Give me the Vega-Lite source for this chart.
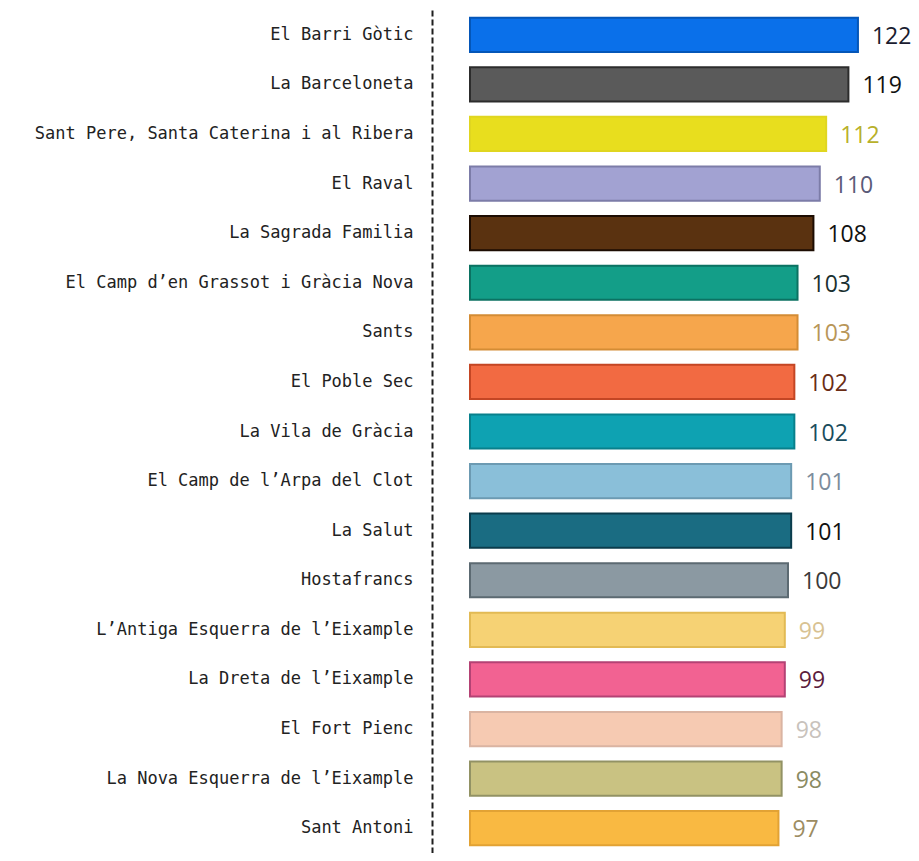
{
  "$schema": "https://vega.github.io/schema/vega-lite/v6.json",
  "autosize": {"type": "none"},
  "padding": {"left": 470, "top": 10, "right": 0, "bottom": 0},
  "width": 449,
  "height": 843,
  "background": "white",
  "config": {"view": {"stroke": null}},
  "data": {
    "values": [
      {"barrio": "El Barri Gòtic", "valor": 122},
      {"barrio": "La Barceloneta", "valor": 119},
      {"barrio": "Sant Pere, Santa Caterina i al Ribera", "valor": 112},
      {"barrio": "El Raval", "valor": 110},
      {"barrio": "La Sagrada Familia", "valor": 108},
      {"barrio": "El Camp d’en Grassot i Gràcia Nova", "valor": 103},
      {"barrio": "Sants", "valor": 103},
      {"barrio": "El Poble Sec", "valor": 102},
      {"barrio": "La Vila de Gràcia", "valor": 102},
      {"barrio": "El Camp de l’Arpa del Clot", "valor": 101},
      {"barrio": "La Salut", "valor": 101},
      {"barrio": "Hostafrancs", "valor": 100},
      {"barrio": "L’Antiga Esquerra de l’Eixample", "valor": 99},
      {"barrio": "La Dreta de l’Eixample", "valor": 99},
      {"barrio": "El Fort Pienc", "valor": 98},
      {"barrio": "La Nova Esquerra de l’Eixample", "valor": 98},
      {"barrio": "Sant Antoni", "valor": 97}
    ]
  },
  "encoding": {
    "y": {
      "field": "barrio",
      "type": "nominal",
      "sort": null,
      "scale": {"paddingInner": 0.31},
      "axis": {
        "title": null,
        "orient": "left",
        "offset": 38,
        "domainDash": [6, 3],
        "domainWidth": 2,
        "domainColor": "#1e1e1e",
        "ticks": false,
        "grid": false,
        "labelPadding": 19,
        "labelFont": "DejaVu Sans Mono",
        "labelFontSize": 17,
        "labelColor": "#222222",
        "labelLimit": 600
      }
    },
    "x": {
      "field": "valor",
      "type": "quantitative",
      "scale": {"domain": [0, 141.2], "nice": false, "zero": true},
      "axis": null
    }
  },
  "layer": [
    {
      "mark": {"type": "bar", "strokeWidth": 2},
      "encoding": {
        "fill": {
          "field": "barrio",
          "type": "nominal",
          "legend": null,
          "scale": {
            "domain": ["El Barri Gòtic", "La Barceloneta", "Sant Pere, Santa Caterina i al Ribera", "El Raval", "La Sagrada Familia", "El Camp d’en Grassot i Gràcia Nova", "Sants", "El Poble Sec", "La Vila de Gràcia", "El Camp de l’Arpa del Clot", "La Salut", "Hostafrancs", "L’Antiga Esquerra de l’Eixample", "La Dreta de l’Eixample", "El Fort Pienc", "La Nova Esquerra de l’Eixample", "Sant Antoni"],
            "range": ["#0a70ea", "#5a5a5a", "#e8de1e", "#a2a2d2", "#5a3210", "#139e88", "#f6a64c", "#f26a42", "#0ea2b2", "#8abfd9", "#1a6c82", "#8b99a2", "#f6d274", "#f26292", "#f6cab2", "#c9c282", "#f9b942"]
          }
        },
        "stroke": {
          "field": "barrio",
          "type": "nominal",
          "legend": null,
          "scale": {
            "domain": ["El Barri Gòtic", "La Barceloneta", "Sant Pere, Santa Caterina i al Ribera", "El Raval", "La Sagrada Familia", "El Camp d’en Grassot i Gràcia Nova", "Sants", "El Poble Sec", "La Vila de Gràcia", "El Camp de l’Arpa del Clot", "La Salut", "Hostafrancs", "L’Antiga Esquerra de l’Eixample", "La Dreta de l’Eixample", "El Fort Pienc", "La Nova Esquerra de l’Eixample", "Sant Antoni"],
            "range": ["#0456b8", "#2c2c2c", "#e0d620", "#7c7ca8", "#1c0c02", "#0b7262", "#d48c34", "#c44624", "#08808c", "#6c9ab2", "#0b3c4c", "#5c6a72", "#e2ba54", "#b44274", "#dab4a2", "#929264", "#e2a234"]
          }
        }
      }
    },
    {
      "mark": {"type": "text", "align": "left", "baseline": "middle", "dx": 14, "dy": 2, "font": "Open Sans", "fontSize": 23},
      "encoding": {
        "text": {"field": "valor", "type": "quantitative"},
        "color": {
          "field": "barrio",
          "type": "nominal",
          "legend": null,
          "scale": {
            "domain": ["El Barri Gòtic", "La Barceloneta", "Sant Pere, Santa Caterina i al Ribera", "El Raval", "La Sagrada Familia", "El Camp d’en Grassot i Gràcia Nova", "Sants", "El Poble Sec", "La Vila de Gràcia", "El Camp de l’Arpa del Clot", "La Salut", "Hostafrancs", "L’Antiga Esquerra de l’Eixample", "La Dreta de l’Eixample", "El Fort Pienc", "La Nova Esquerra de l’Eixample", "Sant Antoni"],
            "range": ["#1a1c30", "#111111", "#b8b02a", "#5a5a78", "#111111", "#1a3030", "#b89658", "#6a2c14", "#1a4c5c", "#7c8c9c", "#111111", "#3a3a3a", "#d8c292", "#5c1c3c", "#c8c2bc", "#8a8a62", "#9c8c62"]
          }
        }
      }
    }
  ]
}
